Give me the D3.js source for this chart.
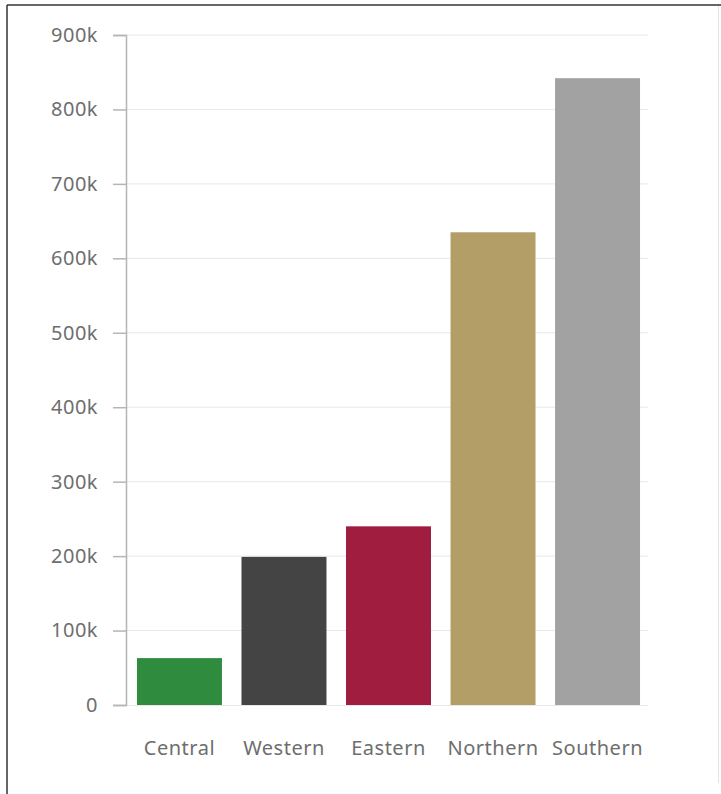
<!DOCTYPE html>
<html lang="en">
<head>
    <meta charset="UTF-8">
    <title>Sales by Region</title>
    <script src="https://d3js.org/d3.v7.min.js"></script>
    <style>
        body { margin: 0; background: #fff; }
        .tick text { font-family: "Noto Sans", Lato, sans-serif; fill: #6e6e6e; letter-spacing: 0.5px; }
    </style>
</head>
<body>
    <script>
        // data
        const regions = ["Central", "Western", "Eastern", "Northern", "Southern"];
        const sales = [63000, 199000, 240000, 635000, 842000];
        const colors = ["#2f8c3f", "#444444", "#a01d3f", "#b39e68", "#a2a2a2"];
        const yTicks = [0, 100000, 200000, 300000, 400000, 500000, 600000, 700000, 800000, 900000];

        const W = 721, H = 794;
        const margin = {top: 35, right: 73, bottom: 89, left: 126};
        const width = W - margin.left - margin.right;
        const height = H - margin.top - margin.bottom;

        const root = d3.select("body").append("svg")
            .attr("width", W)
            .attr("height", H);

        // frame of the screenshot
        root.append("line").attr("x1", 7).attr("x2", 7).attr("y1", 5).attr("y2", H)
            .attr("stroke", "#333").attr("stroke-width", 1.5);
        root.append("line").attr("x1", 7).attr("x2", W).attr("y1", 5).attr("y2", 5)
            .attr("stroke", "#333").attr("stroke-width", 1.5);
        root.append("line").attr("x1", 718.5).attr("x2", 718.5).attr("y1", 6).attr("y2", 783)
            .attr("stroke", "#e4e4e4").attr("stroke-width", 1);

        const svg = root.append("g")
            .attr("transform", "translate(" + margin.left + "," + margin.top + ")");

        const x = d3.scaleBand()
            .domain(regions)
            .range([0, width + 3])
            .paddingInner(0.187)
            .paddingOuter(0.105);

        const y = d3.scaleLinear()
            .domain([0, 900000])
            .range([height, 0]);

        const fmt = d => d === 0 ? "0" : (d / 1000) + "k";

        // grid lines
        svg.append("g")
            .selectAll("line")
            .data(yTicks.slice(1))
            .enter().append("line")
            .attr("x1", 0).attr("x2", width)
            .attr("y1", d => y(d)).attr("y2", d => y(d))
            .attr("stroke", "#e8e8e8");

        // bars
        svg.selectAll("rect")
            .data(sales)
            .enter().append("rect")
            .attr("x", (d, i) => x(regions[i]))
            .attr("y", d => y(d))
            .attr("width", x.bandwidth())
            .attr("height", d => height - y(d))
            .attr("fill", (d, i) => colors[i]);

        // baseline
        svg.append("line")
            .attr("x1", 0).attr("x2", width)
            .attr("y1", height + 0.5).attr("y2", height + 0.5)
            .attr("stroke", "#e8e8e8");

        // y axis
        const yAxis = svg.append("g")
            .call(d3.axisLeft(y).tickValues(yTicks).tickFormat(fmt).tickSize(13).tickPadding(15));
        yAxis.select(".domain").attr("stroke", "#b5b5b5").attr("stroke-width", 1.5);
        yAxis.selectAll(".tick line").attr("stroke", "#b5b5b5").attr("stroke-width", 1.5);
        yAxis.selectAll("text").style("font-size", "20px");

        // x axis
        const xAxis = svg.append("g")
            .attr("transform", "translate(0," + height + ")")
            .call(d3.axisBottom(x).tickSize(0).tickPadding(36));
        xAxis.select(".domain").remove();
        xAxis.selectAll("text").style("font-size", "20px");
    </script>
</body>
</html>
